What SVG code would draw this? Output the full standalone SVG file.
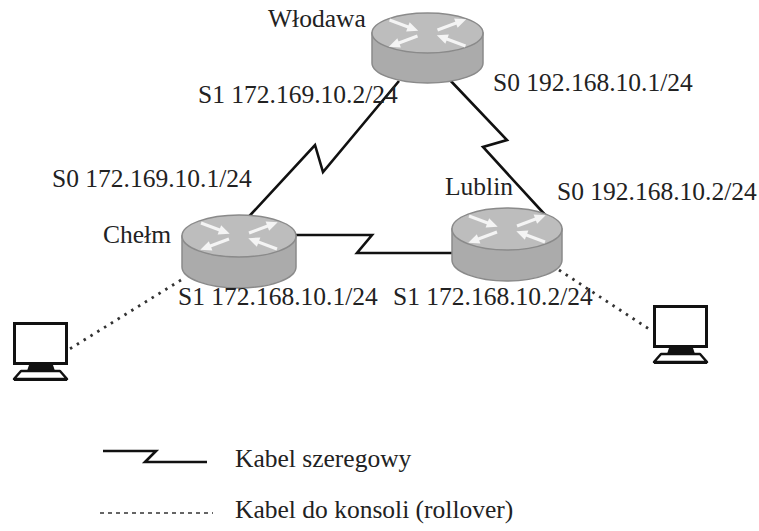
<svg xmlns="http://www.w3.org/2000/svg" width="759" height="531" viewBox="0 0 759 531">
<style>
  text { font-family: "Liberation Serif", serif; font-size: 25.5px; fill: #222; }
  .serial { fill: none; stroke: #111; stroke-width: 2.6; stroke-linejoin: miter; }
  .console { fill: none; stroke: #333; stroke-width: 2.8; stroke-dasharray: 2.5 5.5; }
  .rtop { fill: #bdbdbd; stroke: #8a8a8a; stroke-width: 1.5; }
  .rbody { fill: #ababab; stroke: #8a8a8a; stroke-width: 1.5; }
  .arr { fill: none; stroke: #f4f4f4; stroke-width: 3; }
  .mon { fill: #ffffff; stroke: #111; stroke-width: 3; }
  .base { fill: #ffffff; stroke: #111; stroke-width: 2.5; stroke-linejoin: round; }
</style>
<defs>
  <marker id="ah" markerUnits="userSpaceOnUse" markerWidth="14" markerHeight="14" refX="7" refY="7" orient="auto">
    <path d="M1,2 L12,7 L1,12 Z" fill="#f4f4f4"/>
  </marker>
  <g id="arrows">
    <path class="arr" d="M-38,-13 L-14,-4" marker-end="url(#ah)"/>
    <path class="arr" d="M10,-3 L34,-12" marker-end="url(#ah)"/>
    <path class="arr" d="M-10,3 L-34,12" marker-end="url(#ah)"/>
    <path class="arr" d="M38,13 L14,4" marker-end="url(#ah)"/>
  </g>
  <g id="pc">
    <rect class="mon" x="1.5" y="1.5" width="52" height="40"/>
    <polygon points="16,43 40,43 42,49 14,49" fill="#111"/>
    <polygon class="base" points="8,49 47,49 54,57 1,57"/>
    <line x1="1" y1="57.5" x2="54" y2="57.5" stroke="#111" stroke-width="3"/>
  </g>
</defs>
<rect width="759" height="531" fill="#ffffff"/>

<g id="connectors">
  <path class="serial" d="M248.5,217 L315,145 L323,172 L399,81"/>
  <path class="serial" d="M448,78 L507,140 L483,147 L548,218"/>
  <path class="serial" d="M290,235 L372,235 L357,253 L455,253"/>
  <path class="console" d="M181,280 L68,350"/>
  <path class="console" d="M559,270 L652,331"/>
</g>

<g id="router-wlodawa" transform="translate(427.5,33)">
  <path class="rbody" d="M-55.5,0 L-55.5,30 A55.5,20 0 0 0 55.5,30 L55.5,0 Z"/>
  <ellipse class="rtop" cx="0" cy="0" rx="55.5" ry="20"/>
  <use href="#arrows"/>
</g>
<g id="router-chelm" transform="translate(239,236)">
  <path class="rbody" d="M-57,0 L-57,31 A57,21 0 0 0 57,31 L57,0 Z"/>
  <ellipse class="rtop" cx="0" cy="0" rx="57" ry="21"/>
  <use href="#arrows"/>
</g>
<g id="router-lublin" transform="translate(507,229)">
  <path class="rbody" d="M-55,0 L-55,31 A55,21 0 0 0 55,31 L55,0 Z"/>
  <ellipse class="rtop" cx="0" cy="0" rx="55" ry="21"/>
  <use href="#arrows"/>
</g>

<g id="pc-left" transform="translate(13,322)"><use href="#pc"/></g>
<g id="pc-right" transform="translate(653,305)"><use href="#pc"/></g>

<g id="labels">
  <text x="268" y="27">Włodawa</text>
  <text x="198" y="103">S1 172.169.10.2/24</text>
  <text x="493" y="91">S0 192.168.10.1/24</text>
  <text x="52" y="187">S0 172.169.10.1/24</text>
  <text x="445" y="195">Lublin</text>
  <text x="557" y="200">S0 192.168.10.2/24</text>
  <text x="103" y="243">Chełm</text>
  <text x="178" y="305">S1 172.168.10.1/24</text>
  <text x="393" y="305">S1 172.168.10.2/24</text>
</g>

<g id="legend">
  <path class="serial" d="M103,451 L156,451 L145,462 L207,462"/>
  <text x="235" y="467">Kabel szeregowy</text>
  <line x1="100" y1="513" x2="213" y2="513" stroke="#333" stroke-width="1.5" stroke-dasharray="4 4"/>
  <text x="235" y="518">Kabel do konsoli (rollover)</text>
</g>
</svg>
